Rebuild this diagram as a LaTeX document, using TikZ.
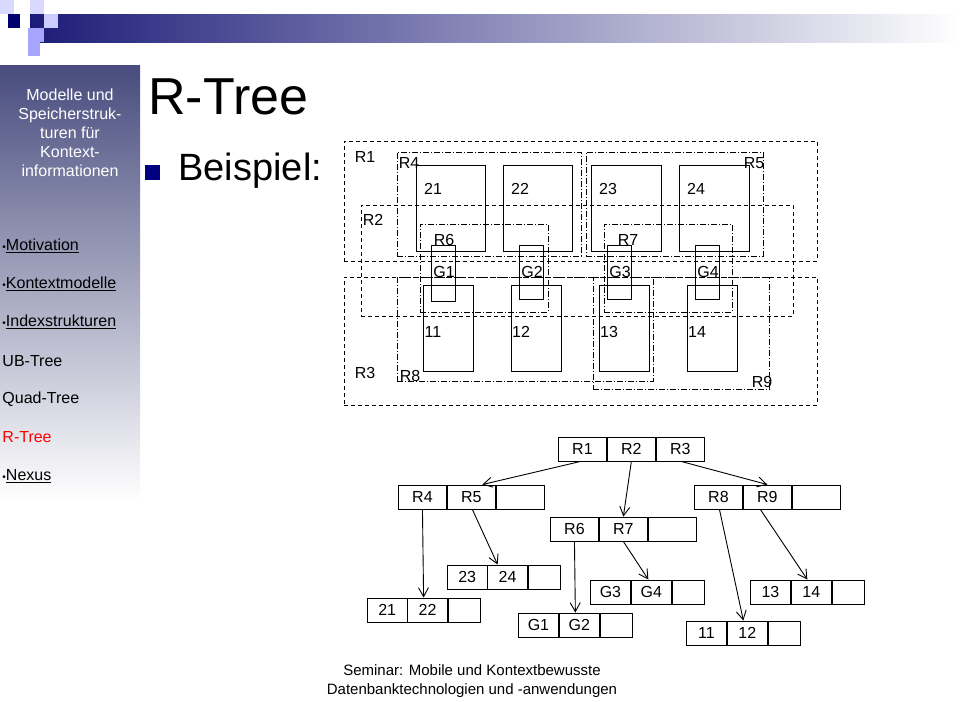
\documentclass[tikz,border=0pt]{standalone}
\usepackage{fontspec}
\setmainfont{Liberation Sans}
\usetikzlibrary{arrows.meta,positioning}
\definecolor{sidetop}{RGB}{72,76,126}
\definecolor{bandnavy}{RGB}{28,28,120}
\definecolor{logonavy}{RGB}{0,0,110}
\definecolor{bulletnavy}{RGB}{0,0,128}

% a box given by its corners
\newcommand{\cornerbox}[6]{\node[#6,minimum width=#4-#2,minimum height=#5-#3] (#1) at ({(#2+#4)/2},{(#3+#5)/2}) {};}
% a record of three cells
\newcommand{\record}[8]{%
  \node[cell,minimum width=#4] (#1a) at (#2,#3) {#6};
  \node[cell,minimum width=#4,right=0pt of #1a] (#1b) {#7};
  \node[cell,minimum width=#5,right=0pt of #1b] (#1c) {#8};}
\newcommand{\dotitem}{{\fontsize{10}{10}\selectfont •}}

\begin{document}
\begin{tikzpicture}[x=1pt,y=-1pt,line width=0.9pt,>={Straight Barb[length=9pt,width=10pt]}]
  \tikzstyle{outer}=[draw,inner sep=0pt,dash pattern=on 4pt off 3pt]
  \tikzstyle{inner}=[draw,inner sep=0pt,dash pattern=on 6pt off 2pt on 1pt off 2pt]
  \tikzstyle{leaf}=[draw,inner sep=0pt]
  \tikzstyle{lbl}=[font=\fontsize{16}{16}\selectfont,inner sep=0pt]
  \tikzstyle{cell}=[draw,minimum height=24pt,inner sep=0pt,anchor=west,font=\fontsize{16}{16}\selectfont]
  \tikzstyle{side}=[font=\fontsize{16}{18}\selectfont,inner sep=0pt,anchor=west]
  \useasboundingbox (0,0) rectangle (960,720);
  % slide frame
  \shade[top color=sidetop,bottom color=white] (0,65) rectangle (140,500);
  \shade[left color=bandnavy,right color=white] (30,14) rectangle (960,42);
  \fill[blue!15] (0,0) rectangle (14,14);
  \fill[blue!15] (30,0) rectangle (44,14);
  \fill[logonavy] (8,14) rectangle (20,28);
  \fill[blue!20] (44,14) rectangle (58,28);
  \fill[blue!35] (28,28) rectangle (44,42);
  \fill[blue!35] (28,42) rectangle (40,56);
  \node[font=\fontsize{16}{19}\selectfont,text=white,align=center] (topic) at (70,133) {Modelle und\\Speicherstruk-\\turen für\\Kontext-\\informationen};
  \node[side] (m1) at (2,246) {\dotitem\underline{Motivation}};
  \node[side] (m2) at (2,284) {\dotitem\underline{Kontextmodelle}};
  \node[side] (m3) at (2,322) {\dotitem\underline{Indexstrukturen}};
  \node[side] (m4) at (2,361) {UB-Tree};
  \node[side] (m5) at (2,399) {Quad-Tree};
  \node[side,text=red] (m6) at (2,437) {R-Tree};
  \node[side] (m7) at (2,476) {\dotitem\underline{Nexus}};
  \node[font=\fontsize{52}{52}\selectfont,anchor=west,inner sep=0pt] (title) at (148,97) {R-Tree};
  \fill[bulletnavy] (145,165) rectangle (160,180);
  \node[font=\fontsize{38}{38}\selectfont,anchor=west,inner sep=0pt] (bsp) at (178,171) {Beispiel:};
  \node[font=\fontsize{15}{19}\selectfont,align=center] (foot) at (472,681) {Seminar: Mobile und Kontextbewusste\\Datenbanktechnologien und -anwendungen};
  % regions
  \cornerbox{R1}{344}{141}{817}{261}{outer}
  \cornerbox{R2}{361}{205}{793}{316}{outer}
  \cornerbox{R3}{344}{277}{817}{405}{outer}
  \cornerbox{R4}{397}{152}{581}{256}{inner}
  \cornerbox{R5}{586}{152}{763}{256}{inner}
  \cornerbox{R6}{420}{224}{548}{312}{inner}
  \cornerbox{R7}{604}{224}{732}{312}{inner}
  \cornerbox{R8}{397}{277}{653}{381}{inner}
  \cornerbox{R9}{593}{277}{769}{389}{inner}
  \cornerbox{b21}{416}{165}{485}{251}{leaf}
  \cornerbox{b22}{503}{165}{572}{251}{leaf}
  \cornerbox{b23}{591}{165}{661}{251}{leaf}
  \cornerbox{b24}{679}{165}{749}{251}{leaf}
  \cornerbox{b11}{423}{285}{473}{371}{leaf}
  \cornerbox{b12}{511}{285}{561}{371}{leaf}
  \cornerbox{b13}{599}{285}{649}{371}{leaf}
  \cornerbox{b14}{687}{285}{737}{371}{leaf}
  \cornerbox{g1}{431}{245}{455}{301}{leaf}
  \cornerbox{g2}{519}{245}{543}{299}{leaf}
  \cornerbox{g3}{607}{245}{631}{299}{leaf}
  \cornerbox{g4}{695}{245}{719}{299}{leaf}
  \node[lbl] (l1) at (365,157) {R1};
  \node[lbl] (l2) at (373,220) {R2};
  \node[lbl] (l3) at (365,373) {R3};
  \node[lbl] (l4) at (409,163) {R4};
  \node[lbl] (l5) at (754,163) {R5};
  \node[lbl] (l6) at (444,240) {R6};
  \node[lbl] (l7) at (628,240) {R7};
  \node[lbl] (l8) at (410,376) {R8};
  \node[lbl] (l9) at (762,382) {R9};
  \node[lbl] (t21) at (433,189) {21};
  \node[lbl] (t22) at (520,189) {22};
  \node[lbl] (t23) at (608,189) {23};
  \node[lbl] (t24) at (696,189) {24};
  \node[lbl] (t11) at (433,332) {11};
  \node[lbl] (t12) at (521,332) {12};
  \node[lbl] (t13) at (609,332) {13};
  \node[lbl] (t14) at (697,332) {14};
  \node[lbl] (tg1) at (444,272) {G1};
  \node[lbl] (tg2) at (532,272) {G2};
  \node[lbl] (tg3) at (620,272) {G3};
  \node[lbl] (tg4) at (708,272) {G4};
  % tree
  \record{root}{558}{449}{48}{48}{R1}{R2}{R3}
  \record{nA}{398}{497}{48}{48}{R4}{R5}{}
  \record{nB}{550}{529}{48}{48}{R6}{R7}{}
  \record{nC}{694}{497}{48}{48}{R8}{R9}{}
  \record{k1}{367}{610}{39.5}{32}{21}{22}{}
  \record{k2}{447}{577}{39.5}{32}{23}{24}{}
  \begin{scope}[every node/.append style={font=\fontsize{12}{12}\selectfont}]
  \record{k3}{518}{625}{40}{32}{G1}{G2}{}
  \record{k4}{590}{592}{40}{32}{G3}{G4}{}
  \end{scope}
  \record{k5}{686}{633}{40}{32}{11}{12}{}
  \record{k6}{750}{592}{40}{32}{13}{14}{}
  \draw[->] ([xshift=-2pt]roota.south) -- ([xshift=11pt]nAb.north);
  \draw[->] ([xshift=0pt]rootb.south) -- ([xshift=0pt]nBb.north);
  \draw[->] ([xshift=1pt]rootc.south) -- ([xshift=0pt]nCb.north);
  \draw[->] ([xshift=0pt]nAa.south) -- ([xshift=-4pt]k1b.north);
  \draw[->] ([xshift=1pt]nAb.south) -- ([xshift=-10pt]k2b.north);
  \draw[->] ([xshift=0pt]nBa.south) -- ([xshift=-4pt]k3b.north);
  \draw[->] ([xshift=0pt]nBb.south) -- ([xshift=-3pt]k4b.north);
  \draw[->] ([xshift=1pt]nCa.south) -- ([xshift=-4pt]k5b.north);
  \draw[->] ([xshift=-7pt]nCb.south) -- ([xshift=-4pt]k6b.north);
\end{tikzpicture}
\end{document}
